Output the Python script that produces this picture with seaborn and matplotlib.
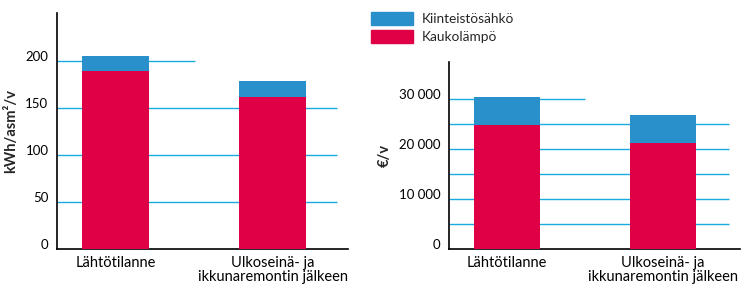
import matplotlib
matplotlib.use("Agg")
import matplotlib.pyplot as plt
import matplotlib.patches as mpatches
import seaborn as sns
import numpy as np

categories = ["Lähtötilanne", "Ulkoseinä- ja\nikkunaremontin jälkeen"]
energy_heat = [189.7, 162.0]          # Kaukolämpö, kWh/asm²/v
energy_elec = [16.0, 17.0]            # Kiinteistösähkö
cost_heat = [24860, 21260]            # Kaukolämpö, €/v
cost_elec = [5600, 5600]              # Kiinteistösähkö
energy_ticks = [0, 50, 100, 150, 200]
energy_ticklabels = ["0", "50", "100", "150", "200"]
cost_ticks = [0, 10000, 20000, 30000]
cost_ticklabels = ["0", "10 000", "20 000", "30 000"]
cost_grid = [5000, 10000, 15000, 20000, 25000, 30000]
legend_labels = ["Kiinteistösähkö", "Kaukolämpö"]

BLUE = "#2990CB"
RED = "#E00045"
GRID = "#1AAAE0"
FONT = "Lato"

sns.set_theme(style="white")
plt.rcParams["font.family"] = [FONT, "DejaVu Sans"]

fig = plt.figure(figsize=(7.49, 2.94), dpi=100)
ax1 = fig.add_axes([0.0757, 0.152, 0.389, 0.804])
ax2 = fig.add_axes([0.599, 0.152, 0.389, 0.636])

def draw(ax, heat, elec, ticks, ticklabels, grid, ylim, ylabel, short_end, long_end, xlim):
    totals = [h + e for h, e in zip(heat, elec)]
    sns.barplot(x=categories, y=totals, color=BLUE, width=0.425, saturation=1,
                ax=ax, zorder=3, linewidth=0)
    sns.barplot(x=categories, y=heat, color=RED, width=0.425, saturation=1,
                ax=ax, zorder=4, linewidth=0)
    top = max(grid)
    for g in grid:
        ax.hlines(g, xlim[0], short_end if g == top else long_end,
                  color=GRID, lw=1.0, zorder=1)
    ax.set_xlim(*xlim)
    ax.set_ylim(*ylim)
    ax.set_yticks(ticks)
    ax.set_yticklabels(ticklabels)
    for lab in ax.get_yticklabels():
        lab.set_va("baseline")
    ax.tick_params(axis="y", length=0, pad=6, labelsize=9.5, colors="#000000")
    ax.tick_params(axis="x", length=0, pad=5, labelsize=10.5, colors="#000000")
    for lab in ax.get_xticklabels():
        lab.set_linespacing(1.0)
    ax.set_ylabel(ylabel, fontsize=10.5, fontweight="bold", labelpad=5)
    ax.set_xlabel("")
    for s in ["top", "right"]:
        ax.spines[s].set_visible(False)
    for s in ["left", "bottom"]:
        ax.spines[s].set_color("black")
        ax.spines[s].set_linewidth(1.2)

draw(ax1, energy_heat, energy_elec, energy_ticks, energy_ticklabels,
     [50, 100, 150, 200], (0, 251), "kWh/asm²/v", 0.508, 1.41, (-0.373, 1.48))
draw(ax2, cost_heat, cost_elec, cost_ticks, cost_ticklabels,
     cost_grid, (0, 37400), "€/v", 0.5, 1.423, (-0.374, 1.495))

handles = [mpatches.Patch(color=BLUE, label=legend_labels[0]),
           mpatches.Patch(color=RED, label=legend_labels[1])]
fs = 9.8
fig.legend(handles=handles, loc="upper left", bbox_to_anchor=(371 / 749, 1 - 12 / 294),
           frameon=False, fontsize=fs, handlelength=42 / (fs * 100 / 72),
           handleheight=15 / (fs * 100 / 72),
           handletextpad=9 / (fs * 100 / 72), labelspacing=0.35,
           borderaxespad=0, borderpad=0)

fig.savefig("out.png", dpi=100)
